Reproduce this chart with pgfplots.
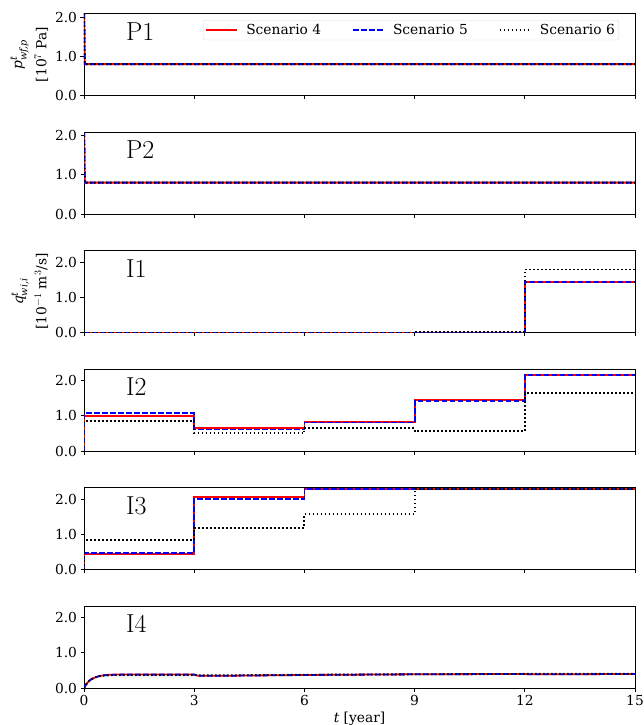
\documentclass[border=0pt]{standalone}
\usepackage{amsmath}
\usepackage{pgfplots}
\pgfplotsset{compat=1.18}
\usepackage{fontspec}
\setmainfont{DejaVu Serif}
\newfontfamily\lmfont{Latin Modern Roman}
\tikzset{plabel/.style={anchor=west, font=\lmfont\fontsize{26}{28}\selectfont}}
\pgfplotsset{
  panel/.style={
    scale only axis, width=551pt, height=82pt,
    xmin=0, xmax=15, ymin=0,
    xtick={0,3,...,15}, ytick={0,1,2},
    yticklabel={\pgfmathprintnumber[fixed,fixed zerofill,precision=1]{\tick}},
    /pgf/number format/assume math mode=true,
    tick align=outside, tick pos=left, major tick length=3.5pt,
    tick label style={font=\fontsize{13.8}{15}\selectfont},
    axis line style={line width=0.8pt},
    every tick/.style={line width=0.8pt, black},
    clip=true,
    label style={font=\fontsize{13.8}{15}\selectfont},
  },
  s4/.style={red, solid, line width=1.8pt},
  s5/.style={blue, dash pattern=on 5.5pt off 2.5pt, line width=1.8pt},
  s6/.style={black, dash pattern=on 1.5pt off 2.5pt, line width=1.9pt},
}
\begin{document}
\begin{tikzpicture}
\useasboundingbox (0pt,0pt) rectangle (644pt,-725pt);
% P1
\begin{axis}[panel, at={(84pt,-13.5pt)}, anchor=north west, ymax=2.09, xticklabels=\empty,
  ylabel={$\text{\itshape p}^{\text{\itshape t}}_{\text{\itshape wf,p}}$\\[5pt]{}[10$^{7}$ Pa]},
  ylabel style={align=center},
  legend style={at={(0.971,0.92)}, anchor=north east, legend columns=3,
    draw=black!15, rounded corners=2pt, font=\fontsize{13.8}{15}\selectfont,
    inner sep=2pt,
    /tikz/every even column/.append style={column sep=29pt}},
  legend image code/.code={\draw[#1] (0pt,0pt) -- (31pt,0pt); \path (37pt,0pt);},
]
\addplot[s4] coordinates {(0,2.5) (0.02,0.8) (15,0.8)};
\addplot[s5] coordinates {(0,2.5) (0.02,0.8) (15,0.8)};
\addplot[s6] coordinates {(0,2.5) (0.02,0.8) (15,0.8)};
\legend{Scenario 4, Scenario 5, Scenario 6}
\node[plabel] at (axis description cs:0.07,0.78) {P1};
\end{axis}
% P2
\begin{axis}[panel, at={(84pt,-132pt)}, anchor=north west, ymax=2.09, xticklabels=\empty]
\addplot[s4] coordinates {(0,2.5) (0.02,0.8) (15,0.8)};
\addplot[s5] coordinates {(0,2.5) (0.02,0.8) (15,0.8)};
\addplot[s6] coordinates {(0,2.5) (0.02,0.8) (15,0.8)};
\node[plabel] at (axis description cs:0.07,0.78) {P2};
\end{axis}
% I1
\begin{axis}[panel, at={(84pt,-250.5pt)}, anchor=north west, ymax=2.33, xticklabels=\empty,
  ylabel={$\text{\itshape q}^{\text{\itshape t}}_{\text{\itshape wi,i}}$\\[5pt]{}[10$^{-1}$ m$^{3}$/s]},
  ylabel style={align=center}]
\addplot[s4, const plot] coordinates {(0,0) (12,1.43) (15,1.43)};
\addplot[s5, const plot] coordinates {(0,0) (12,1.43) (15,1.43)};
\addplot[s6, const plot] coordinates {(0,0) (9,0.02) (12,1.79) (15,1.79)};
\node[plabel] at (axis description cs:0.07,0.78) {I1};
\end{axis}
% I2
\begin{axis}[panel, at={(84pt,-369pt)}, anchor=north west, ymax=2.33, xticklabels=\empty]
\addplot[s4, const plot] coordinates {(0,0) (0,1.00) (3,0.65) (6,0.83) (9,1.45) (12,2.16) (15,2.16)};
\addplot[s5, const plot] coordinates {(0,0) (0,1.07) (3,0.61) (6,0.81) (9,1.42) (12,2.15) (15,2.15)};
\addplot[s6, const plot] coordinates {(0,0) (0,0.85) (3,0.50) (6,0.65) (9,0.56) (12,1.64) (15,1.64)};
\node[plabel] at (axis description cs:0.07,0.78) {I2};
\end{axis}
% I3
\begin{axis}[panel, at={(84pt,-487.5pt)}, anchor=north west, ymax=2.33, xticklabels=\empty]
\addplot[s4, const plot] coordinates {(0,0) (0,0.44) (3,2.06) (6,2.29) (9,2.29) (15,2.29)};
\addplot[s5, const plot] coordinates {(0,0) (0,0.48) (3,2.01) (6,2.29) (9,2.29) (15,2.29)};
\addplot[s6, const plot] coordinates {(0,0) (0,0.84) (3,1.19) (6,1.57) (9,2.29) (15,2.29)};
\node[plabel] at (axis description cs:0.07,0.78) {I3};
\end{axis}
% I4
\begin{axis}[panel, at={(84pt,-606pt)}, anchor=north west, ymax=2.33,
  xlabel={\textit{t} [year]}]
\addplot[s4] coordinates {(0,0) (0.05,0.09) (0.1,0.16) (0.15,0.21) (0.2,0.25) (0.3,0.30) (0.4,0.335) (0.5,0.355) (0.6,0.37) (0.8,0.38) (1,0.385) (2,0.385) (3,0.385) (3.1,0.35) (4,0.35) (5,0.36) (6,0.37) (7.5,0.38) (9,0.39) (10.5,0.395) (12,0.40) (12.1,0.39) (13,0.39) (15,0.40)};
\addplot[s5] coordinates {(0,0) (0.05,0.09) (0.1,0.16) (0.15,0.21) (0.2,0.25) (0.3,0.30) (0.4,0.335) (0.5,0.355) (0.6,0.365) (0.8,0.375) (1,0.38) (2,0.38) (3,0.38) (3.1,0.35) (4,0.35) (5,0.36) (6,0.37) (7.5,0.38) (9,0.39) (10.5,0.395) (12,0.40) (12.1,0.39) (13,0.39) (15,0.40)};
\addplot[s6] coordinates {(0,0) (0.05,0.09) (0.1,0.16) (0.15,0.21) (0.2,0.25) (0.3,0.30) (0.4,0.33) (0.5,0.35) (0.6,0.36) (1,0.365) (3,0.365) (3.1,0.36) (4,0.36) (6,0.375) (9,0.39) (12,0.40) (15,0.40)};
\node[plabel] at (axis description cs:0.07,0.78) {I4};
\end{axis}
\end{tikzpicture}
\end{document}
